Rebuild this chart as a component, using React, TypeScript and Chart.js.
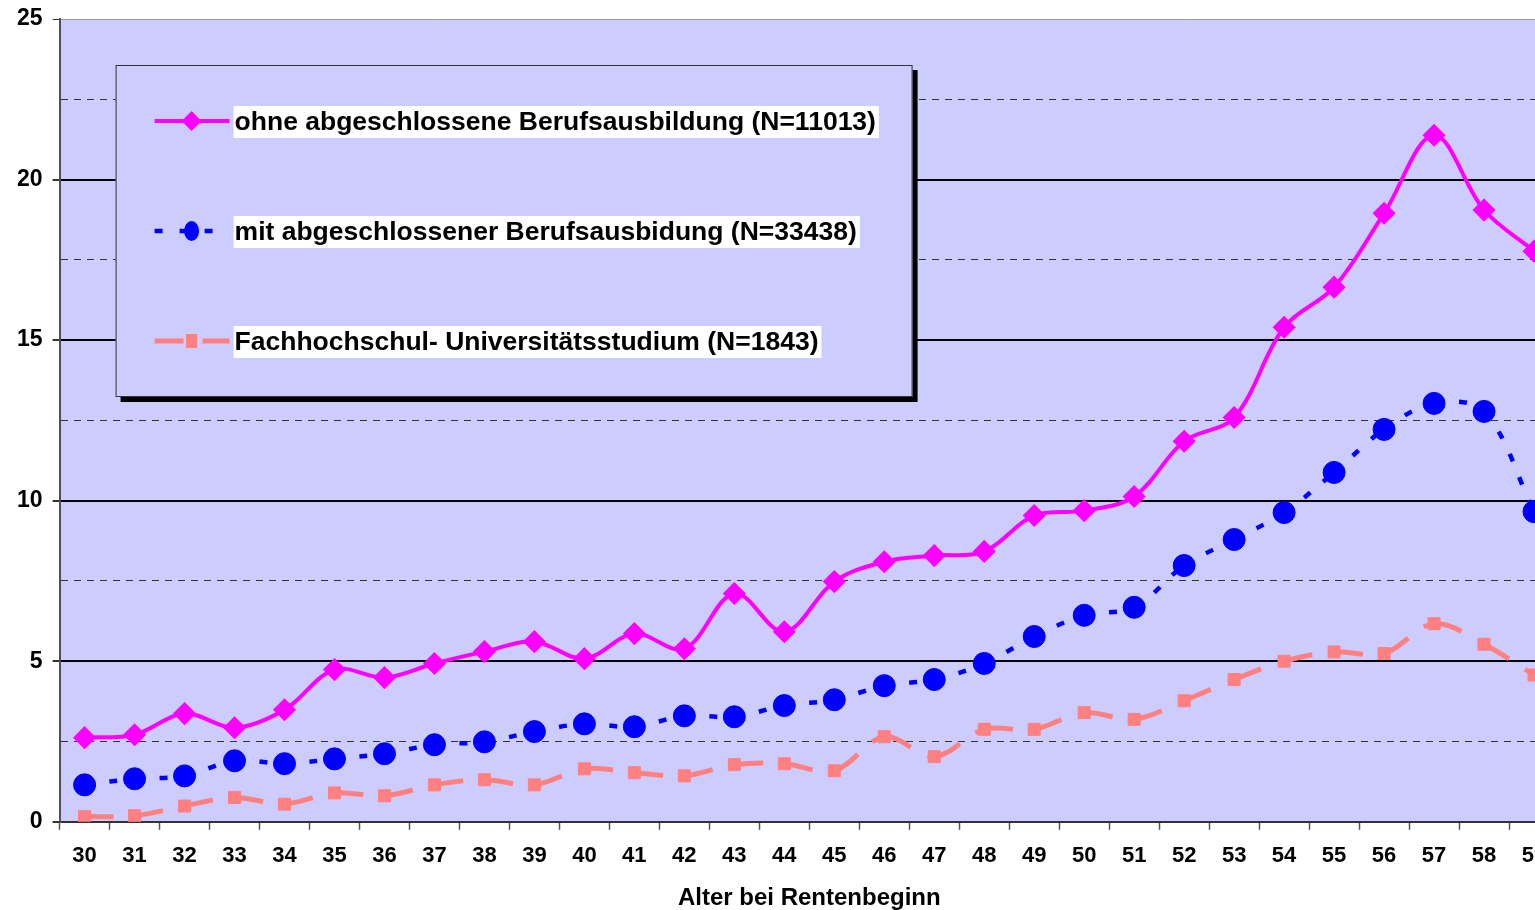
import React, { useEffect, useRef } from 'react';
import { Chart, registerables } from 'chart.js';

Chart.register(...registerables);

const ages = ['30','31','32','33','34','35','36','37','38','39','40','41','42','43','44','45','46','47','48','49','50','51','52','53','54','55','56','57','58','59'];

const ohneLabel = 'ohne abgeschlossene Berufsausbildung (N=11013)';
const mitLabel = 'mit abgeschlossener Berufsausbidung (N=33438)';
const fachLabel = 'Fachhochschul- Universitätsstudium (N=1843)';

const ohne = [2.62, 2.71, 3.37, 2.93, 3.49, 4.74, 4.49, 4.93, 5.30, 5.61, 5.08, 5.86, 5.39, 7.11, 5.92, 7.48, 8.10, 8.29, 8.42, 9.54, 9.69, 10.13, 11.85, 12.59, 15.40, 16.65, 18.95, 21.38, 19.05, 17.77];
const mit = [1.15, 1.34, 1.43, 1.90, 1.81, 1.96, 2.12, 2.40, 2.49, 2.81, 3.05, 2.96, 3.30, 3.27, 3.62, 3.80, 4.24, 4.43, 4.93, 5.77, 6.43, 6.68, 7.98, 8.79, 9.63, 10.88, 12.22, 13.03, 12.78, 9.66];
const fach = [0.16, 0.19, 0.49, 0.76, 0.55, 0.90, 0.81, 1.15, 1.31, 1.15, 1.65, 1.53, 1.43, 1.78, 1.81, 1.59, 2.65, 2.03, 2.88, 2.88, 3.40, 3.19, 3.77, 4.43, 5.00, 5.29, 5.24, 6.17, 5.53, 4.57];

const yMin = 0;
const yMax = 25;
const yStep = 2.5;
const xTitle = 'Alter bei Rentenbeginn';

const FONT = '"Liberation Sans", Arial, Helvetica, sans-serif';
const PLOT_BG = '#CCCCFF';

const bgPlugin = {
  id: 'plotBg',
  beforeDraw(chart: any) {
    const { ctx, chartArea } = chart;
    ctx.save();
    ctx.fillStyle = PLOT_BG;
    ctx.fillRect(chartArea.left, chartArea.top, chartArea.right - chartArea.left, chartArea.bottom - chartArea.top);
    ctx.restore();
  },
};

function drawMarker(ctx: CanvasRenderingContext2D, style: string, x: number, y: number, r: number, color: string) {
  ctx.save();
  ctx.fillStyle = color;
  ctx.setLineDash([]);
  ctx.beginPath();
  if (style === 'rectRot') {
    ctx.moveTo(x, y - r);
    ctx.lineTo(x + r, y);
    ctx.lineTo(x, y + r);
    ctx.lineTo(x - r, y);
    ctx.closePath();
  } else if (style === 'circle') {
    ctx.ellipse(x, y, r * 0.75, r, 0, 0, Math.PI * 2);
  } else {
    ctx.rect(x - r * 0.8, y - r, 1.6 * r, 2 * r);
  }
  ctx.fill();
  ctx.restore();
}

const legendPlugin = {
  id: 'boxLegend',
  afterDraw(chart: any) {
    const ctx: CanvasRenderingContext2D = chart.ctx;
    const ca = chart.chartArea;
    const x0 = ca.left + 56;
    const y0 = ca.top + 46;
    const w = 797;
    const h = 332;
    ctx.save();
    ctx.fillStyle = '#000';
    ctx.fillRect(x0 + 5, y0 + 5, w, h);
    ctx.fillStyle = PLOT_BG;
    ctx.fillRect(x0, y0, w, h);
    ctx.strokeStyle = '#333';
    ctx.lineWidth = 1;
    ctx.strokeRect(x0 + 0.5, y0 + 0.5, w - 1, h - 1);

    const rowYs = [y0 + 56, y0 + 166, y0 + 276];
    const markerR = [10, 10, 7];
    chart.data.datasets.forEach((ds: any, i: number) => {
      const ry = rowYs[i];
      ctx.save();
      ctx.strokeStyle = ds.borderColor;
      ctx.lineWidth = ds.borderWidth;
      ctx.setLineDash(ds.borderDash || []);
      ctx.beginPath();
      ctx.moveTo(x0 + 39, ry);
      ctx.lineTo(x0 + 114, ry);
      ctx.stroke();
      ctx.restore();
      drawMarker(ctx, ds.pointStyle, x0 + 76, ry, markerR[i], ds.pointBackgroundColor);

      ctx.font = 'bold 26.5px ' + FONT;
      const tw = ctx.measureText(ds.label).width;
      ctx.fillStyle = '#fff';
      ctx.fillRect(x0 + 118, ry - 15, tw + 4, 32);
      ctx.fillStyle = '#000';
      ctx.textBaseline = 'middle';
      ctx.textAlign = 'left';
      ctx.fillText(ds.label, x0 + 119, ry + 2);
    });
    ctx.restore();
  },
};

const isMajor = (v: number) => Math.abs(v % 5) < 1e-6;
// restart the dash pattern at every data point (one stroke per segment)
const perSegment = { borderDashOffset: (c: any) => (c.p0DataIndex % 2) * 0.001 };

export default function App() {
  const ref = useRef<HTMLCanvasElement | null>(null);

  useEffect(() => {
    document.body.style.margin = '0';
    const canvas = ref.current;
    if (!canvas) return;
    const chart = new Chart(canvas, {
      type: 'line',
      data: {
        labels: ages,
        datasets: [
          {
            label: ohneLabel,
            data: ohne,
            borderColor: '#FF00FF',
            backgroundColor: '#FF00FF',
            borderWidth: 4,
            borderDash: [],
            pointStyle: 'rectRot',
            pointRadius: 10.5,
            pointBorderWidth: 1.5,
            pointBackgroundColor: '#FF00FF',
            pointBorderColor: '#FF00FF',
            tension: 0.35,
            fill: false,
          },
          {
            label: mitLabel,
            data: mit,
            borderColor: '#0000FF',
            backgroundColor: '#0000FF',
            borderWidth: 4.5,
            borderDash: [8, 17],
            segment: perSegment,
            pointStyle: 'circle',
            pointRadius: 11,
            pointBorderWidth: 1,
            pointBackgroundColor: '#0000FF',
            pointBorderColor: '#0000FF',
            tension: 0.35,
            fill: false,
          },
          {
            label: fachLabel,
            data: fach,
            borderColor: '#FF8080',
            backgroundColor: '#FF8080',
            borderWidth: 5,
            borderDash: [29, 19],
            segment: perSegment,
            pointStyle: 'rect',
            pointRadius: 8.5,
            pointBorderWidth: 1,
            pointBackgroundColor: '#FF8080',
            pointBorderColor: '#FF8080',
            tension: 0.35,
            fill: false,
          },
        ] as any,
      },
      options: {
        animation: false,
        responsive: false,
        maintainAspectRatio: false,
        layout: { padding: { left: 7, top: 19, right: 41, bottom: 23 } },
        plugins: {
          legend: { display: false },
          tooltip: { enabled: false },
          title: { display: false },
        },
        scales: {
          x: {
            type: 'category',
            offset: true,
            grid: {
              offset: true,
              drawOnChartArea: false,
              drawTicks: true,
              tickLength: 8,
              tickColor: '#555',
              tickWidth: 1.5,
            },
            border: { display: true, color: '#333', width: 2 },
            ticks: {
              autoSkip: false,
              maxRotation: 0,
              padding: 13,
              color: '#000',
              font: { family: FONT, size: 22, weight: 'bold' },
            },
            title: {
              display: true,
              text: xTitle,
              color: '#000',
              padding: { top: 2, bottom: 4 },
              font: { family: FONT, size: 24, weight: 'bold' },
            },
          },
          y: {
            min: yMin,
            max: yMax,
            ticks: {
              stepSize: yStep,
              autoSkip: false,
              padding: 10,
              color: '#000',
              font: { family: FONT, size: 23, weight: 'bold', lineHeight: 0.7 },
              callback: (v: any) => (isMajor(Number(v)) ? String(v) : ''),
            },
            grid: {
              color: (c: any) => {
                const v = c.tick ? c.tick.value : 0;
                if (v >= yMax) return '#9a9aaa';
                return isMajor(v) ? '#000' : '#333';
              },
              lineWidth: (c: any) => {
                const v = c.tick ? c.tick.value : 0;
                return isMajor(v) && v < yMax ? 2 : 1;
              },
              tickColor: (c: any) => {
                const v = c.tick ? c.tick.value : 0;
                return isMajor(v) ? '#333' : 'rgba(0,0,0,0)';
              },
              tickLength: 7,
            },
            border: {
              display: true,
              color: '#4d4d66',
              width: 2,
              dash: (c: any) => (c.tick && !isMajor(c.tick.value) ? [7, 6] : []),
            } as any,
          },
        },
      } as any,
      plugins: [bgPlugin, legendPlugin],
    });
    return () => chart.destroy();
  }, []);

  return (
    <div style={{ position: 'fixed', left: 0, top: 0, width: 1535, height: 910, overflow: 'hidden', background: '#fff' }}>
      <canvas ref={ref} width={1600} height={940} style={{ display: 'block' }} />
    </div>
  );
}
